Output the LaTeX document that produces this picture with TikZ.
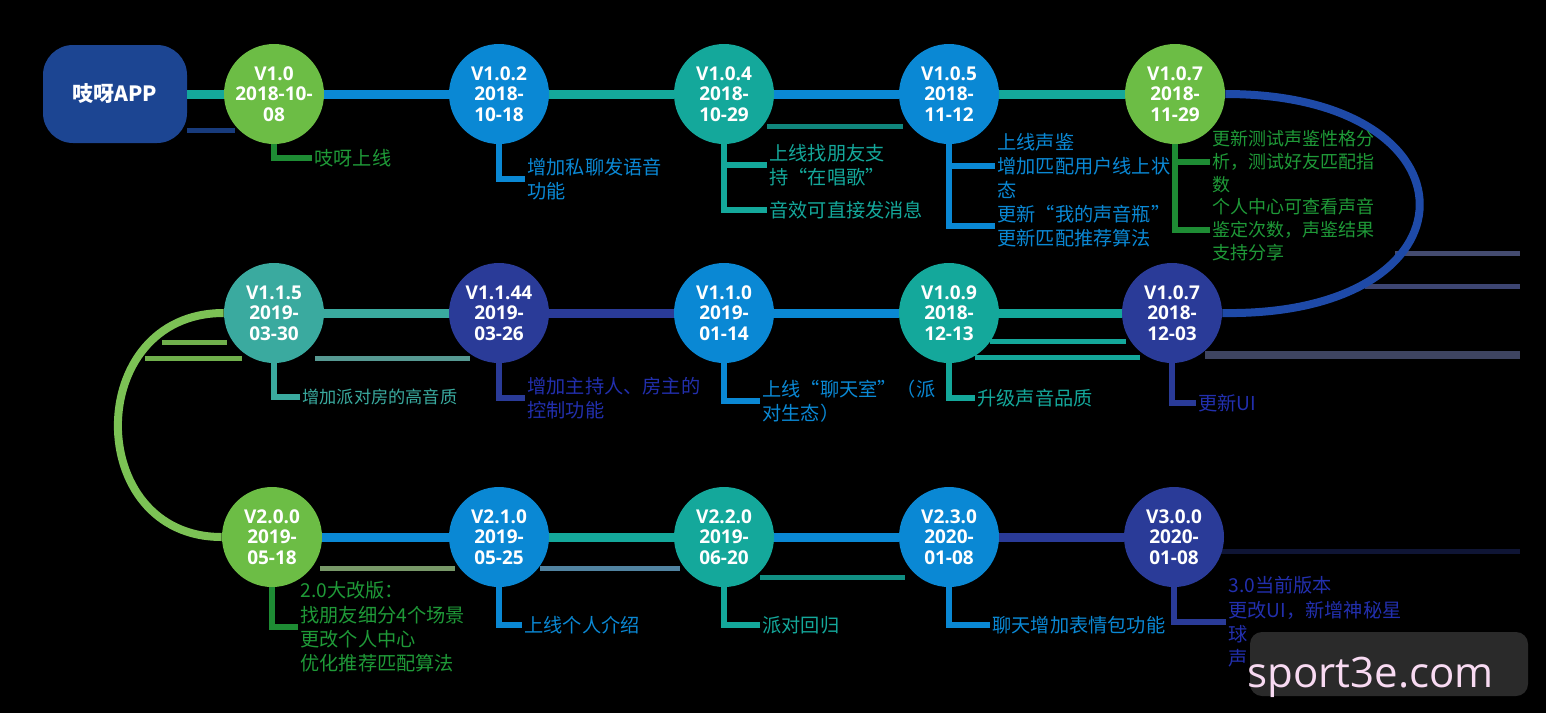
\documentclass[tikz,border=0pt]{standalone}
\usepackage{fontspec}
\setmainfont{Open Sans}
\newfontfamily\cjk{Noto Sans CJK SC}
\usepackage{tikz}
\usetikzlibrary{positioning}
\definecolor{zgreen}{HTML}{6CBD45}
\definecolor{zdkgreen}{HTML}{1E8C34}
\definecolor{zgrntext}{HTML}{1F9A38}
\definecolor{zblue}{HTML}{0A88D4}
\definecolor{zteal}{HTML}{14A89B}
\definecolor{zteallt}{HTML}{3AAA9F}
\definecolor{znavy}{HTML}{2A3B98}
\definecolor{zarc}{HTML}{1E4AA8}
\definecolor{zarcgreen}{HTML}{7CC255}
\definecolor{zapp}{HTML}{1C4592}
\definecolor{wmpink}{HTML}{F8DAF2}

\begin{document}
\begin{tikzpicture}[x=0.5pt,y=-0.5pt,
    ver/.style={circle,fill=#1,minimum size=50pt,inner sep=0pt,text=white,align=center,font=\bfseries\fontsize{9.5}{10.3}\selectfont},
    link/.style={line width=4.5pt},
    callout/.style={line width=2.6pt},
    note/.style={anchor=west,inner sep=1pt,align=left,text=#1,font=\cjk\fontsize{9.6}{12.2}\selectfont},
    ghost/.style={line width=2.5pt}]
    \useasboundingbox (0,0) rectangle (1546,713);
    \fill[black] (0,0) rectangle (1546,713);
    % faded stray bars
    \draw[ghost,zapp!85!black] (187,130) -- (235,130);
    \draw[ghost,zteal!80!black] (767,126) -- (903,126);
    \draw[ghost,zarcgreen!90!black] (162,342) -- (227,342);
    \draw[ghost,zarcgreen!90!black] (145,358) -- (242,358);
    \draw[ghost,zteallt!60!gray] (315,358) -- (470,358);
    \draw[ghost,zteal] (990,341) -- (1126,341);
    \draw[ghost,zteal] (975,357) -- (1140,357);
    \draw[ghost,znavy!50!gray!80!black] (1395,253) -- (1520,253);
    \draw[ghost,znavy!60!gray!80!black] (1365,286) -- (1520,286);
    \draw[line width=4pt,znavy!45!gray!70!black] (1205,355) -- (1520,355);
    \draw[ghost,zgreen!40!gray] (320,568) -- (455,568);
    \draw[ghost,zblue!40!gray] (540,568) -- (680,568);
    \draw[ghost,zteal!85!black] (760,577) -- (905,577);
    \draw[ghost,znavy!35!black] (1215,551) -- (1520,551);

    % app and versions
    \node[rounded corners=15pt,fill=zapp,minimum width=72pt,minimum height=49pt,text=white,font=\cjk\bfseries\fontsize{10.5}{12}\selectfont] (app) at (115,94) {吱呀APP};
    \node[ver=zgreen] (v10) at (274,94) {V1.0\\2018-10-\\08};
    \node[ver=zblue] (v102) at (499,94) {V1.0.2\\2018-\\10-18};
    \node[ver=zteal] (v104) at (724,94) {V1.0.4\\2018-\\10-29};
    \node[ver=zblue] (v105) at (949,94) {V1.0.5\\2018-\\11-12};
    \node[ver=zgreen] (v107a) at (1175,94) {V1.0.7\\2018-\\11-29};
    \node[ver=znavy] (v107b) at (1172,313) {V1.0.7\\2018-\\12-03};
    \node[ver=zteal] (v109) at (949,313) {V1.0.9\\2018-\\12-13};
    \node[ver=zblue] (v110) at (724,313) {V1.1.0\\2019-\\01-14};
    \node[ver=znavy] (v1144) at (499,313) {V1.1.44\\2019-\\03-26};
    \node[ver=zteallt] (v115) at (274,313) {V1.1.5\\2019-\\03-30};
    \node[ver=zgreen] (v200) at (272,537) {V2.0.0\\2019-\\05-18};
    \node[ver=zblue] (v210) at (499,537) {V2.1.0\\2019-\\05-25};
    \node[ver=zteal] (v220) at (724,537) {V2.2.0\\2019-\\06-20};
    \node[ver=zblue] (v230) at (949,537) {V2.3.0\\2020-\\01-08};
    \node[ver=znavy] (v300) at (1174,537) {V3.0.0\\2020-\\01-08};

    % timeline
    \draw[link,zteal] (app) -- (v10);
    \draw[link,zblue] (v10) -- (v102);
    \draw[link,zteal] (v102) -- (v104);
    \draw[link,zblue] (v104) -- (v105);
    \draw[link,zteal] (v105) -- (v107a);
    \draw[line width=4pt,zarc] (v107a.east) .. controls (1485,94) and (1485,317) .. (v107b.east);
    \draw[link,zteal] (v107b) -- (v109);
    \draw[link,zblue] (v109) -- (v110);
    \draw[link,znavy] (v110) -- (v1144);
    \draw[link,zteallt] (v1144) -- (v115);
    \draw[line width=4pt,zarcgreen] (v115.west) .. controls (83,313) and (83,537) .. (v200.west);
    \draw[link,zblue] (v200) -- (v210);
    \draw[link,zteal] (v210) -- (v220);
    \draw[link,zblue] (v220) -- (v230);
    \draw[link,znavy] (v230) -- (v300);

    % release notes
    \node[note=zgrntext] (n10) at (312,158) {吱呀上线};
    \node[note=zblue] (n102) at (525,179) {增加私聊发语音\\功能};
    \node[note=zteal] (n104a) at (767,165) {上线找朋友支\\持“在唱歌”};
    \node[note=zteal] (n104b) at (767,210) {音效可直接发消息};
    \node[note=zblue] (n105a) at (995,166) {上线声鉴\\增加匹配用户线上状\\态};
    \node[note=zblue] (n105b) at (995,226) {更新“我的声音瓶”\\更新匹配推荐算法};
    \node[note=zgrntext,font=\cjk\fontsize{9}{11.5}\selectfont] (n107a) at (1210,162) {更新测试声鉴性格分\\析，测试好友匹配指\\数};
    \node[note=zgrntext,font=\cjk\fontsize{9}{11.5}\selectfont] (n107b) at (1210,230) {个人中心可查看声音\\鉴定次数，声鉴结果\\支持分享};
    \node[note=znavy!80!blue] (n107c) at (1196,403) {更新UI};
    \node[note=zteal] (n109) at (975,398) {升级声音品质};
    \node[note=zblue] (n110) at (760,401) {上线“聊天室”（派\\对生态）};
    \node[note=znavy!80!blue] (n1144) at (525,398) {增加主持人、房主的\\控制功能};
    \node[note=zteallt,font=\cjk\fontsize{8.6}{12}\selectfont] (n115) at (300,397) {增加派对房的高音质};
    \node[note=zgrntext] (n200) at (298,627) {2.0大改版：\\找朋友细分4个场景\\更改个人中心\\优化推荐匹配算法};
    \node[note=zblue] (n210) at (522,625) {上线个人介绍};
    \node[note=zteal] (n220) at (760,625) {派对回归};
    \node[note=zblue] (n230) at (990,625) {聊天增加表情包功能};
    \node[note=znavy!80!blue] (n300) at (1226,622) {3.0当前版本\\更改UI，新增神秘星\\球\\声};

    \draw[callout,zdkgreen] (v10.south) |- (n10.west);
    \draw[callout,zblue] (v102.south) |- (n102.west);
    \draw[callout,zteal] (v104.south) |- (n104a.west);
    \draw[callout,zteal] (v104.south) |- (n104b.west);
    \draw[callout,zblue] (v105.south) |- (n105a.west);
    \draw[callout,zblue] (v105.south) |- (n105b.west);
    \draw[callout,zdkgreen] (v107a.south) |- (n107a.west);
    \draw[callout,zdkgreen] (v107a.south) |- (n107b.west);
    \draw[callout,znavy] (v107b.south) |- (n107c.west);
    \draw[callout,zteal] (v109.south) |- (n109.west);
    \draw[callout,zblue] (v110.south) |- (n110.west);
    \draw[callout,znavy] (v1144.south) |- (n1144.west);
    \draw[callout,zteallt] (v115.south) |- (n115.west);
    \draw[callout,zdkgreen] (v200.south) |- (n200.west);
    \draw[callout,zblue] (v210.south) |- (n210.west);
    \draw[callout,zteal] (v220.south) |- (n220.west);
    \draw[callout,zblue] (v230.south) |- (n230.west);
    \draw[callout,znavy] (v300.south) |- (n300.west);

    % watermark
    \fill[black!82!white,fill opacity=0.92,rounded corners=6pt] (1250,632) rectangle (1528,696);
    \node[anchor=base west,inner sep=0pt,text=wmpink,font=\fontsize{21}{21}\selectfont] (wm) at (1247,687) {sport3e.com};
\end{tikzpicture}
\end{document}
